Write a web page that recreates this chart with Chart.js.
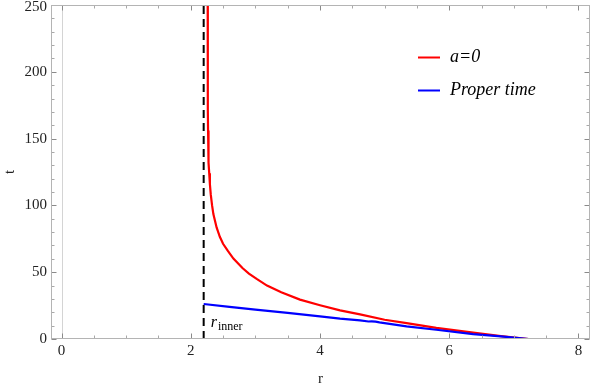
<!DOCTYPE html>
<html>
<head>
<meta charset="utf-8">
<script src="https://cdn.jsdelivr.net/npm/chart.js@4.4.1/dist/chart.umd.min.js"></script>
<style>
  html, body { margin: 0; padding: 0; background: #fff; }
  #wrap { width: 591px; height: 388px; }
</style>
</head>
<body>
<div id="wrap"><canvas id="c" width="591" height="388"></canvas></div>
<script>
// ---- data ----
const redR = [2.2621, 2.263, 2.265, 2.268, 2.272, 2.278, 2.286, 2.296, 2.31, 2.33, 2.35, 2.40, 2.45, 2.50, 2.577, 2.66, 2.80, 2.90, 3.02, 3.18, 3.40, 3.69, 4.00, 4.31, 4.62, 5.00, 5.34, 5.80, 6.37, 6.80, 7.23];
const redT = [250, 200, 172, 156, 142, 132, 124, 116, 108, 100, 93.5, 83.5, 76.5, 71.3, 65.7, 60.2, 53.1, 49.0, 45.0, 40.0, 35.0, 29.5, 25.3, 21.4, 18.4, 14.4, 11.9, 8.3, 4.8, 2.2, 0];
const blueR = [2.20, 2.60, 3.00, 3.50, 4.00, 4.31, 4.62, 4.75, 4.80, 4.86, 4.92, 5.34, 5.80, 6.37, 6.80, 7.23];
const blueT = [26.2, 24.1, 22.0, 19.6, 17.0, 15.2, 14.0, 13.1, 13.2, 13.0, 12.4, 9.5, 6.9, 3.7, 1.9, 0];
const rInner = 2.2;
const dashT = [0, 250];
const xTicks = [0, 2, 4, 6, 8];
const yTicks = [0, 50, 100, 150, 200, 250];
const xMinorStep = 0.5;
const yMinorStep = 10;
const legendLabels = ['a=0', 'Proper time'];
const xTitle = 'r';
const yTitle = 't';

const SERIF = "'Liberation Serif', 'Times New Roman', 'DejaVu Serif', serif";
const RED = '#ff0000';
const BLUE = '#0000ff';
const TICK_FONT = { family: SERIF, size: 15 };

const pts = (xs, ys) => xs.map((x, i) => ({x: x, y: ys[i]}));

const framePlugin = {
  id: 'frame',
  beforeDatasetsDraw(chart) {
    const {ctx, chartArea: a, scales: {x}} = chart;
    ctx.save();
    ctx.strokeStyle = '#d4d4d4';
    ctx.lineWidth = 1;
    const x0 = Math.round(x.getPixelForValue(0)) + 0.5;
    ctx.beginPath(); ctx.moveTo(x0, a.top); ctx.lineTo(x0, a.bottom); ctx.stroke();
    ctx.restore();
  },
  afterDraw(chart) {
    const {ctx, chartArea: a, scales: {x, y}} = chart;
    ctx.save();
    ctx.lineWidth = 1;
    const L = Math.round(a.left) + 0.5, R = Math.round(a.right) - 0.5;
    const T = Math.round(a.top) + 0.5, B = Math.round(a.bottom) - 0.5;
    const drawXTick = (v, len, col) => {
      const px = Math.round(x.getPixelForValue(v)) + 0.5;
      if (px < L || px > R) return;
      ctx.strokeStyle = col;
      ctx.beginPath();
      ctx.moveTo(px, B); ctx.lineTo(px, B - len);
      ctx.moveTo(px, T); ctx.lineTo(px, T + len);
      ctx.stroke();
    };
    const drawYTick = (v, len, col) => {
      const py = Math.round(y.getPixelForValue(v)) + 0.5;
      ctx.strokeStyle = col;
      ctx.beginPath();
      ctx.moveTo(L, py); ctx.lineTo(L + len, py);
      ctx.moveTo(R, py); ctx.lineTo(R - len, py);
      ctx.stroke();
    };
    for (let v = Math.ceil(x.min / xMinorStep) * xMinorStep; v <= x.max + 1e-9; v += xMinorStep) {
      const isMajor = xTicks.some(t => Math.abs(t - v) < 1e-6);
      if (isMajor) drawXTick(v, 5, '#8a8a8a'); else drawXTick(v, 3, '#a8a8a8');
    }
    for (let v = 0; v <= y.max + 1e-9; v += yMinorStep) {
      const isMajor = yTicks.some(t => Math.abs(t - v) < 1e-6);
      if (isMajor) drawYTick(v, 5, '#8a8a8a'); else drawYTick(v, 3, '#a8a8a8');
    }
    ctx.strokeStyle = '#b4b4b4';
    ctx.strokeRect(L, T, R - L, B - T);

    // top y tick label, kept inside the canvas like the reference
    const topVal = yTicks[yTicks.length - 1];
    ctx.fillStyle = '#222';
    ctx.font = TICK_FONT.size + 'px ' + SERIF;
    ctx.textAlign = 'right';
    ctx.textBaseline = 'top';
    ctx.fillText(String(topVal), a.left - 4, Math.max(0, y.getPixelForValue(topVal) - 7));

    // r_inner label anchored at the dashed line
    const lx = x.getPixelForValue(rInner) + 7;
    const ly = y.getPixelForValue(0) - 12;
    ctx.fillStyle = '#000';
    ctx.textBaseline = 'alphabetic';
    ctx.textAlign = 'left';
    ctx.font = 'italic 16px ' + SERIF;
    ctx.fillText('r', lx, ly);
    const rw = ctx.measureText('r').width;
    ctx.font = '12px ' + SERIF;
    ctx.fillText('inner', lx + rw + 1, ly + 3);

    // legend
    const items = [[legendLabels[0], RED], [legendLabels[1], BLUE]];
    const legX = a.left + 367, legY = a.top + 52.5, gap = 33;
    items.forEach((it, i) => {
      const yy = legY + i * gap;
      ctx.strokeStyle = it[1];
      ctx.lineWidth = 2;
      ctx.beginPath(); ctx.moveTo(legX, yy); ctx.lineTo(legX + 22, yy); ctx.stroke();
      ctx.fillStyle = '#000';
      ctx.font = 'italic 18px ' + SERIF;
      ctx.textBaseline = 'middle';
      ctx.fillText(it[0], legX + 32, yy);
    });
    ctx.restore();
  }
};

new Chart(document.getElementById('c'), {
  type: 'scatter',
  data: {
    datasets: [
      { label: legendLabels[1], data: pts(blueR, blueT), showLine: true, borderColor: BLUE, borderWidth: 2.2, pointRadius: 0, tension: 0, order: 0 },
      { label: legendLabels[0], data: pts(redR, redT), showLine: true, borderColor: RED, borderWidth: 2.2, pointRadius: 0, tension: 0, order: 1 },
      { label: 'r_inner', data: pts([rInner, rInner], dashT), showLine: true, borderColor: '#000', borderWidth: 2, borderDash: [8, 5], pointRadius: 0, order: 2 }
    ]
  },
  options: {
    responsive: false,
    animation: false,
    devicePixelRatio: 1,
    layout: { padding: { top: 5, right: 1, left: 0, bottom: 0 } },
    plugins: { legend: { display: false }, tooltip: { enabled: false } },
    scales: {
      x: {
        type: 'linear',
        min: -0.1625,
        max: 8.178,
        afterBuildTicks: s => { s.ticks = xTicks.map(v => ({value: v})); },
        afterFit: s => { s.height = 49; s.paddingLeft = 0; s.paddingRight = 0; },
        grid: { display: false, drawTicks: false },
        border: { display: false },
        ticks: { padding: 3, color: '#222', font: TICK_FONT, maxRotation: 0, autoSkip: false },
        title: { display: true, text: xTitle, color: '#222', font: TICK_FONT, padding: { top: 0, bottom: 0 } }
      },
      y: {
        type: 'linear',
        min: 0,
        max: 250,
        afterBuildTicks: s => { s.ticks = yTicks.map(v => ({value: v})); },
        afterFit: s => { s.width = 51; s.paddingTop = 0; s.paddingBottom = 0; },
        grid: { display: false, drawTicks: false },
        border: { display: false },
        ticks: {
          padding: 4, color: '#222', font: TICK_FONT, autoSkip: false,
          callback: v => (v === yTicks[yTicks.length - 1] ? '' : String(v))
        },
        title: { display: true, text: yTitle, color: '#222', font: TICK_FONT, padding: { top: 1, bottom: 0 } }
      }
    }
  },
  plugins: [framePlugin]
});
</script>
</body>
</html>
